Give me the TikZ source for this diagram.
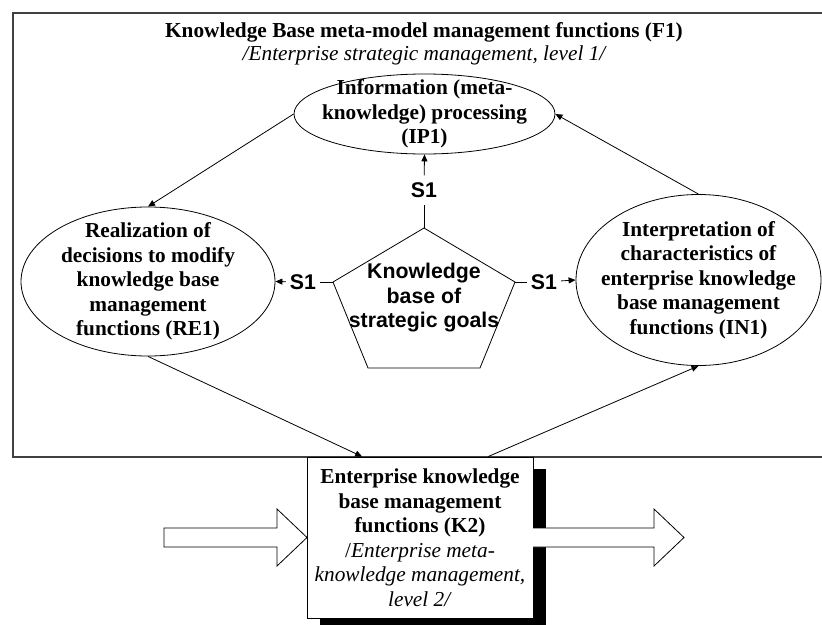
\documentclass[tikz,border=0pt]{standalone}
\usepackage{fontspec}
\setmainfont{Liberation Serif}
\setsansfont{Liberation Sans}
\usetikzlibrary{arrows.meta,shapes.geometric,shadows,calc}
\newcommand\dfont{\fontsize{21.3pt}{24.5pt}\selectfont}
\begin{document}
\begin{tikzpicture}[x=1pt,y=-1pt,
  every node/.style={inner sep=0pt},
  conn/.style={draw=black, line width=0.8pt},
  arr/.style={conn, -{Triangle[length=7pt,width=6pt]}},
  oval/.style={draw, ellipse, line width=0.8pt},
  txt/.style={align=center, font=\dfont\bfseries},
  slab/.style={font=\dfont\sffamily\bfseries, inner xsep=4pt, inner ysep=7pt},
  blockarrow/.style={draw, line width=0.8pt, fill=white},
]
\useasboundingbox (0,0) rectangle (822,624);
% frame
\draw[line width=1.2pt, black!75] (822,13) -- (13,13) -- (13,457) -- (822,457);
\node[txt] (title) at (424,32) {Knowledge Base meta-model management functions (F1)};
\node[font=\dfont\itshape] (subtitle) at (424,55) {/Enterprise strategic management, level 1/};

% ellipses
\node[oval, minimum width=261pt, minimum height=80pt] (ip1) at (424.5,114) {};
\node[txt] (ip1t) at (ip1) {Information (meta-\\knowledge) processing\\(IP1)};
\node[oval, minimum width=254pt, minimum height=149pt] (re1) at (148,281.5) {};
\node[txt] (re1t) at (re1) {Realization of\\decisions to modify\\knowledge base\\management\\functions (RE1)};
\node[oval, minimum width=245pt, minimum height=171pt] (in1) at (698.5,280) {};
\node[txt] (in1t) at (in1) {Interpretation of\\characteristics of\\enterprise knowledge\\base management\\functions (IN1)};

% pentagon
\coordinate (pa) at (424,228);
\coordinate (pr) at (515,282);
\coordinate (pbr) at (480,368);
\coordinate (pbl) at (368,368);
\coordinate (pl) at (333,282);
\draw[line width=0.8pt] (pa) -- (pr) -- (pbr) -- (pbl) -- (pl) -- cycle;
\node[font=\dfont\sffamily\bfseries, align=center] (kb) at (424,298) {Knowledge\\base of\\strategic goals};

% S1 links
\node[slab] (s1t) at (424,190) {S1};
\node[slab] (s1l) at (303,282) {S1};
\node[slab] (s1r) at (544,282) {S1};
\draw[conn] (pa) -- (s1t);
\draw[arr] (s1t) -- (ip1.south);
\draw[conn] (pl) -- (s1l);
\draw[arr] (s1l) -- (re1.east);
\draw[conn] (pr) -- (s1r);
\draw[arr] (s1r) -- (in1.west);

% K2 box
\node[draw, fill=white, line width=0.8pt, minimum width=226pt, minimum height=161pt,
  align=center, font=\dfont,
  general shadow={fill=black, shadow xshift=13pt, shadow yshift=-12pt}] (k2) at (420,537.5)
  {\textbf{Enterprise knowledge}\\\textbf{base management}\\\textbf{functions (K2)}\\/\textit{Enterprise meta-}\\\textit{knowledge management,}\\\textit{level 2/}};

% block arrows
\draw[blockarrow] (164,528) -- (277,528) -- (277,509) -- (307,537.5) -- (277,566) -- (277,547) -- (164,547) -- cycle;
\draw[blockarrow] (533,528) -- (654,528) -- (654,509) -- (684,537.5) -- (654,566) -- (654,547) -- (533,547);

% main connectors
\draw[arr] (ip1.west) -- (re1.north);
\draw[arr] (in1.north) -- (ip1.east);
\draw[arr] (re1.south) -- ($(k2.north west)!0.245!(k2.north east)$);
\draw[arr] ($(k2.north west)!0.8!(k2.north east)$) -- (in1.south);
\end{tikzpicture}
\end{document}
